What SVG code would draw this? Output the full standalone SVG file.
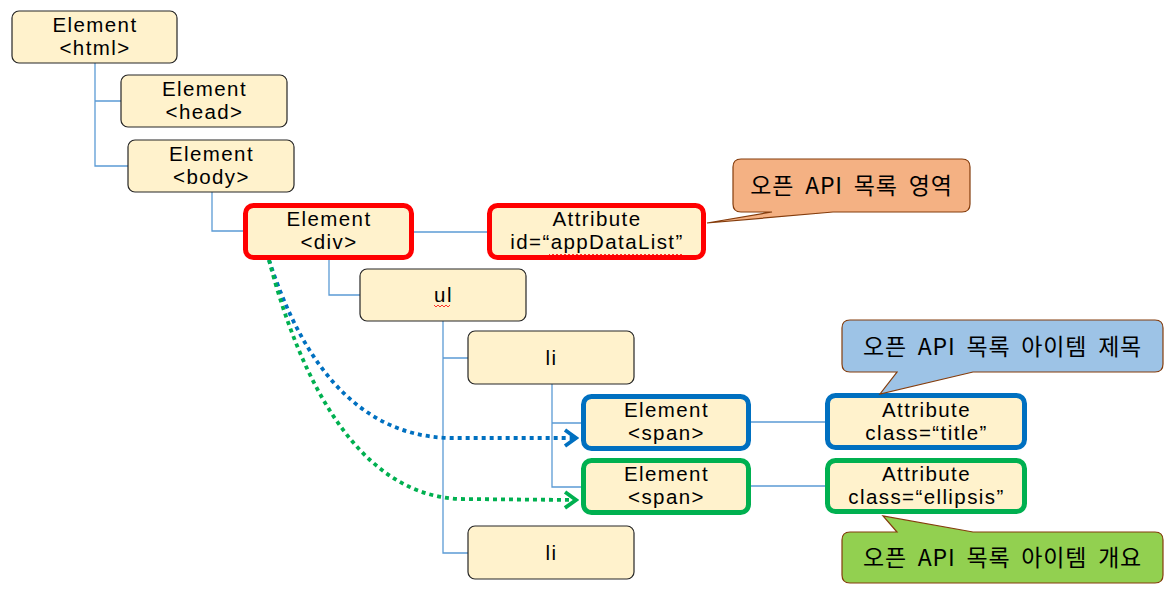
<svg xmlns="http://www.w3.org/2000/svg" width="1174" height="591" viewBox="0 0 1174 591">
<style>
.box{fill:#FFF2CC;stroke:#262626;stroke-width:1.2}
.hl{fill:#FFF2CC;stroke-width:5}
.red{stroke:#FF0000}.blue{stroke:#0070C0}.green{stroke:#00B050}
.t{font-family:"Liberation Sans","Noto Sans CJK KR",sans-serif;font-size:20.5px;letter-spacing:1.4px;fill:#000;text-anchor:middle}
.k{font-family:"Noto Sans CJK KR","Noto Sans",sans-serif;font-size:23px;fill:#000;text-anchor:middle;word-spacing:5px;letter-spacing:0.8px}
.ln{fill:none;stroke:#5B9BD5;stroke-width:1.3}
.dot{fill:none;stroke-width:3.8;stroke-dasharray:4 4}
.call{stroke:#843C0C;stroke-width:1.2}
.sq{fill:none;stroke:#FF0000;stroke-width:0.8}
</style>
<defs>
<marker id="ab" markerWidth="16" markerHeight="20" refX="13" refY="10" orient="auto" markerUnits="userSpaceOnUse"><path d="M2,2 L13,10 L2,18" fill="none" stroke="#0070C0" stroke-width="3.8"/></marker>
<marker id="ag" markerWidth="16" markerHeight="20" refX="13" refY="10" orient="auto" markerUnits="userSpaceOnUse"><path d="M2,2 L13,10 L2,18" fill="none" stroke="#00B050" stroke-width="3.8"/></marker>
</defs>
<g id="connectors">
<path class="ln" d="M95,63 V166 H128 M95,101 H121"/>
<path class="ln" d="M212,192 V231 H245"/>
<path class="ln" d="M414,232 H489"/>
<path class="ln" d="M329,259 V295 H360"/>
<path class="ln" d="M443,321 V553 H468 M443,358 H468"/>
<path class="ln" d="M552,384 V487 H583 M552,423 H583"/>
<path class="ln" d="M751,422 H827 M751,486 H827"/>
<path class="dot blue" d="M269,260 C295,340 345,436 450,438 L576,438" marker-end="url(#ab)"/>
<path class="dot green" d="M269,260 C295,360 350,495 460,499 L576,500" marker-end="url(#ag)"/>
</g>
<g id="html"><rect class="box" x="12" y="11" width="165" height="52" rx="7"/><text class="t"><tspan x="95" y="32">Element</tspan><tspan x="95" y="55">&lt;html&gt;</tspan></text></g>
<g id="head"><rect class="box" x="121" y="75" width="166" height="52" rx="7"/><text class="t"><tspan x="204.5" y="96">Element</tspan><tspan x="204.5" y="119">&lt;head&gt;</tspan></text></g>
<g id="body"><rect class="box" x="128" y="140" width="166" height="52" rx="7"/><text class="t"><tspan x="211.5" y="161">Element</tspan><tspan x="211.5" y="184">&lt;body&gt;</tspan></text></g>
<g id="div"><rect class="hl red" x="245.5" y="205.5" width="166" height="52" rx="8"/><text class="t"><tspan x="329" y="226">Element</tspan><tspan x="329" y="249">&lt;div&gt;</tspan></text></g>
<g id="attr-id"><rect class="hl red" x="489.5" y="205.5" width="214" height="52" rx="8"/><text class="t"><tspan x="597" y="226">Attribute</tspan><tspan x="597" y="249">id=“appDataList”</tspan></text><path class="sq" d="M549,254 l2,2 l2,-2 l2,2 l2,-2 l2,2 l2,-2 l2,2 l2,-2 l2,2 l2,-2 l2,2 l2,-2 l2,2 l2,-2 l2,2 l2,-2 l2,2 l2,-2 l2,2 l2,-2 l2,2 l2,-2 l2,2 l2,-2 l2,2 l2,-2 l2,2 l2,-2 l2,2 l2,-2 l2,2 l2,-2 l2,2 l2,-2 l2,2 l2,-2 l2,2 l2,-2 l2,2 l2,-2 l2,2 l2,-2 l2,2 l2,-2 l2,2 l2,-2 l2,2 l2,-2 l2,2 l2,-2 l2,2 l2,-2 l2,2 l2,-2 l2,2 l2,-2 l2,2 l2,-2 l2,2 l2,-2 l2,2 l2,-2 l2,2 l2,-2 l2,2 l2,-2 l2,2"/></g>
<g id="callout-area"><path class="call" fill="#F4B183" d="M741,159 H962 Q970,159 970,167 V204 Q970,212 962,212 H833 L707,223 L772,212 H741 Q733,212 733,204 V167 Q733,159 741,159 Z"/><text class="k" x="851.5" y="194">오픈 API 목록 영역</text></g>
<g id="ul"><rect class="box" x="360" y="269" width="166" height="52" rx="7"/><text class="t" x="443.5" y="302">ul</text><path class="sq" d="M434,305 l2,2 l2,-2 l2,2 l2,-2 l2,2 l2,-2 l2,2 l2,-2"/></g>
<g id="li1"><rect class="box" x="468" y="331" width="166" height="53" rx="7"/><text class="t" x="551.5" y="365">li</text></g>
<g id="span-title"><rect class="hl blue" x="583.5" y="396.5" width="165" height="52" rx="8"/><text class="t"><tspan x="666.5" y="417">Element</tspan><tspan x="666.5" y="440">&lt;span&gt;</tspan></text></g>
<g id="span-ellipsis"><rect class="hl green" x="583.5" y="460.5" width="165" height="52" rx="8"/><text class="t"><tspan x="666.5" y="481">Element</tspan><tspan x="666.5" y="504">&lt;span&gt;</tspan></text></g>
<g id="li2"><rect class="box" x="468" y="526" width="166" height="53" rx="7"/><text class="t" x="551.5" y="560">li</text></g>
<g id="attr-title"><rect class="hl blue" x="827.5" y="395.5" width="197" height="52" rx="8"/><text class="t"><tspan x="926.5" y="417">Attribute</tspan><tspan x="926.5" y="440">class=“title”</tspan></text></g>
<g id="attr-ellipsis"><rect class="hl green" x="827.5" y="460.5" width="197" height="51" rx="8"/><text class="t"><tspan x="926.5" y="481">Attribute</tspan><tspan x="926.5" y="504">class=“ellipsis”</tspan></text></g>
<g id="callout-title"><path class="call" fill="#9DC3E6" d="M850,320 H1155 Q1163,320 1163,328 V364 Q1163,372 1155,372 H973 L880,394 L897,372 H850 Q842,372 842,364 V328 Q842,320 850,320 Z"/><text class="k" x="1002.5" y="355">오픈 API 목록 아이템 제목</text></g>
<g id="callout-summary"><path class="call" fill="#92D050" d="M850,532 H897 L883,516 L973,532 H1155 Q1163,532 1163,540 V575 Q1163,583 1155,583 H850 Q842,583 842,575 V540 Q842,532 850,532 Z"/><text class="k" x="1002.5" y="566">오픈 API 목록 아이템 개요</text></g>
</svg>
